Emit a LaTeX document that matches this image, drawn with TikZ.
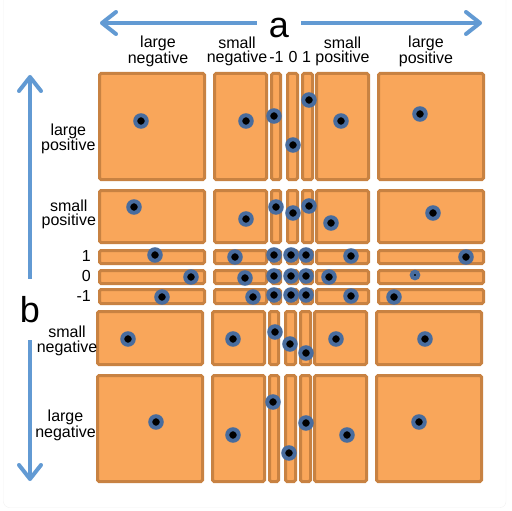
\documentclass[tikz,border=0pt]{standalone}
\usepackage{fontspec}
\setmainfont{Liberation Sans}
\usetikzlibrary{arrows.meta}
\definecolor{cellfill}{RGB}{249,166,90}
\definecolor{celledge}{RGB}{200,130,66}
\definecolor{ringblue}{RGB}{72,108,158}
\definecolor{axisblue}{RGB}{98,154,211}
\begin{document}
\begin{tikzpicture}[x=1pt,y=-1pt,
  cell/.style={fill=cellfill,draw=celledge,line width=3pt,rounded corners=1.5pt},
  dot/.style={circle,fill=black,draw=ringblue,line width=4pt,minimum size=11.5pt,inner sep=0pt},
  tinydot/.style={dot,minimum size=6.5pt},
  axis/.style={draw=axisblue,line width=4pt,-{Straight Barb[length=14pt,width=22pt,round]}},
  lbl/.style={font=\fontsize{16}{14.5}\selectfont,align=center,inner sep=0pt},
  big/.style={font=\fontsize{36}{36}\selectfont,inner sep=0pt}]
\useasboundingbox (0,0) rectangle (512,511);
\draw[gray!12,rounded corners=6pt] (3.5,-10) rectangle (506,507.5);
% cells
\foreach \ya/\yb/\dx in {72/181/0,189/244/0,249/265/0,269/285/0,288/305/0,310/366/-2,374/483/-2}
  \foreach \xa/\xb in {98/206,213/268,270/282,286/299,301/314,315/370,377/485}
    \draw[cell] (\xa+\dx+1.5,\ya+1.5) rectangle (\xb+\dx-1.5,\yb-1.5);
% dots
\foreach \x/\y [count=\i] in {141/121,246/121,274/116,293/145,309/100,341/121,420/114,
    134/207,246/219,276/207,293/213,309/206,331/223,433/213,
    155/255,235/257,274/255,291/255,306/255,351/256,466/257,
    191/277,245/278,274/276,291/276,306/276,329/277,
    162/297,253/297,274/295,291/295,306/295,351/296,394/297,
    128/339,233/339,275/332,290/344,306/353,336/339,425/339,
    156/422,233/435,273/402,306/423,289/453,347/435,419/422}
  \node[dot] (d\i) at (\x,\y) {};
\node[tinydot] (d0) at (415,275) {};
% axes
\node[big] (a) at (279,27.5) {a};
\coordinate (aleft) at (100,23);
\coordinate (aright) at (482,23);
\draw[axis] ([xshift=-12pt]a.west |- aleft) -- (aleft);
\draw[axis] ([xshift=12pt]a.east |- aright) -- (aright);
\node[big] (b) at (30,309.5) {b};
\coordinate (btop) at (30,75);
\coordinate (bbot) at (30,481);
\draw[axis] ([yshift=17.5pt]b.north) -- (btop);
\draw[axis] ([yshift=-17.5pt]b.south) -- (bbot);
% column labels
\node[lbl] (cLN) at (158,51.2) {large\\negative};
\node[lbl] (cSN) at (237,51.2) {small\\negative};
\node[lbl,anchor=base] (cm1) at (276.5,62.3) {-1};
\node[lbl,anchor=base] (c0) at (293,62.3) {0};
\node[lbl,anchor=base] (c1) at (306.5,62.3) {1};
\node[lbl] (cSP) at (342.5,51.2) {small\\positive};
\node[lbl] (cLP) at (426,51.2) {large\\positive};
% row labels
\node[lbl] (rLP) at (68.3,138.9) {large\\positive};
\node[lbl] (rSP) at (68.8,214.2) {small\\positive};
\node[lbl,anchor=base east] (r1) at (91,261.7) {1};
\node[lbl,anchor=base east] (r0) at (91,281.7) {0};
\node[lbl,anchor=base east] (rm1) at (91,301.7) {-1};
\node[lbl] (rSN) at (67,340.9) {small\\negative};
\node[lbl] (rLN) at (65.5,425.2) {large\\negative};
\end{tikzpicture}
\end{document}
